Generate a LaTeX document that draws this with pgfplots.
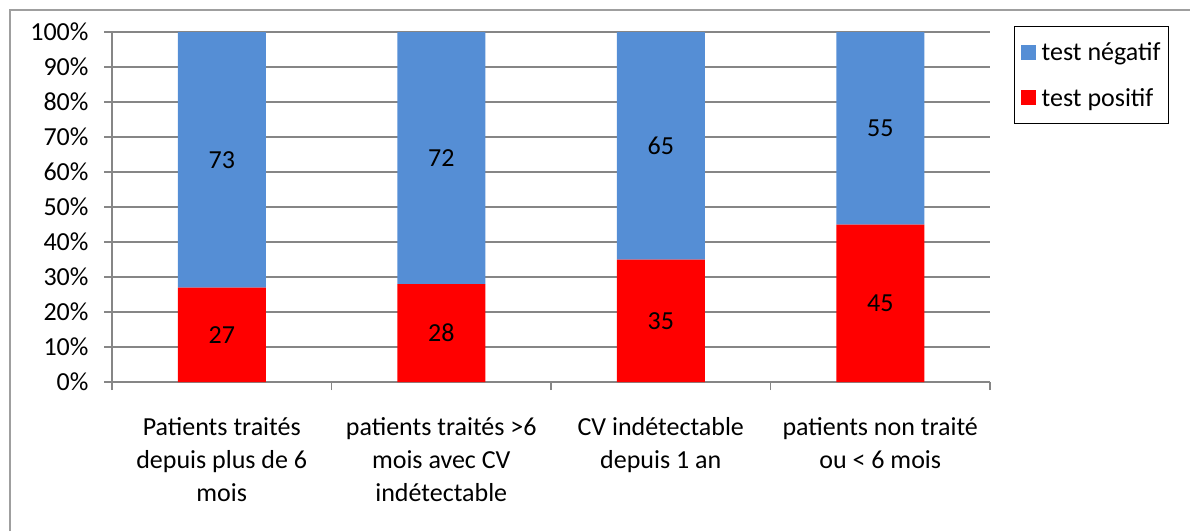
\documentclass[border=0pt]{standalone}
\usepackage{fontspec}
\setmainfont{Carlito}
\usepackage{pgfplots}
\pgfplotsset{compat=1.18}
\definecolor{negblue}{HTML}{558ED5}
\definecolor{posred}{HTML}{FF0000}
\definecolor{gridgray}{HTML}{868686}
\newcommand\cf{\fontsize{26}{33}\selectfont}
\pgfplotstableread{
x pos neg
1 27 73
2 28 72
3 35 65
4 45 55
}\datatab
\pgfplotstableread{
x y label
1 13.5 27
1 63.5 73
2 14 28
2 64 72
3 17.5 35
3 67.5 65
4 22.5 45
4 72.5 55
}\labtab
\begin{document}
\begin{tikzpicture}
\useasboundingbox (0pt,0pt) rectangle (1190pt,-531pt);
\draw[gray!75, line width=1.5pt] (10pt,-531pt) -- (10pt,-10pt) -- (1190pt,-10pt);
\begin{axis}[
  at={(112pt,-382pt)}, anchor=south west,
  scale only axis, width=878pt, height=350pt,
  xmin=0.5, xmax=4.5, ymin=0, ymax=100,
  ybar stacked, bar width=88pt,
  axis x line*=bottom, axis y line*=left,
  axis line style={gridgray, line width=1.3pt},
  ymajorgrids, grid style={gridgray, line width=1.3pt},
  ytick={0,10,...,100},
  yticklabel={\pgfmathprintnumber{\tick}\%},
  /pgf/number format/assume math mode=true,
  yticklabel style={font=\cf, xshift=-12pt},
  tick align=outside, major tick length=8pt, minor tick length=8pt,
  tick style={gridgray, line width=1.3pt},
  xtick={1,2,3,4},
  major x tick style={draw=none},
  minor xtick={0.5,1.5,2.5,3.5,4.5},
  xticklabels={{Patients traités\\depuis plus de 6\\mois},{patients traités >6\\mois avec CV\\indétectable},{CV indétectable\\depuis 1 an},{patients non traité\\ou < 6 mois}},
  xticklabel style={font=\cf, align=center, yshift=-24pt},
  legend image code/.code={\fill[#1] (0pt,-7.5pt) rectangle (15pt,7.5pt);},
  reverse legend,
  legend style={at={(1,1)}, anchor=north west, xshift=24pt, yshift=6pt,
    draw=black, line width=1.3pt, font=\cf, inner xsep=6pt, inner ysep=14pt,
    row sep=22pt, legend cell align=left,
    /tikz/every odd column/.append style={column sep=4pt},
    nodes={inner sep=2pt}},
]
\addplot[fill=posred, draw=none] table[x=x, y=pos] {\datatab};
\addlegendentry{test positif}
\addplot[fill=negblue, draw=none] table[x=x, y=neg] {\datatab};
\addlegendentry{test négatif}
\end{axis}
\begin{axis}[
  at={(112pt,-382pt)}, anchor=south west,
  scale only axis, width=878pt, height=350pt,
  xmin=0.5, xmax=4.5, ymin=0, ymax=100,
  hide axis,
]
\addplot[draw=none, mark=none, nodes near coords, point meta=explicit symbolic,
  every node near coord/.style={anchor=center, font=\cf, text=black}]
  table[x=x, y=y, meta=label] {\labtab};
\end{axis}
\end{tikzpicture}
\end{document}
